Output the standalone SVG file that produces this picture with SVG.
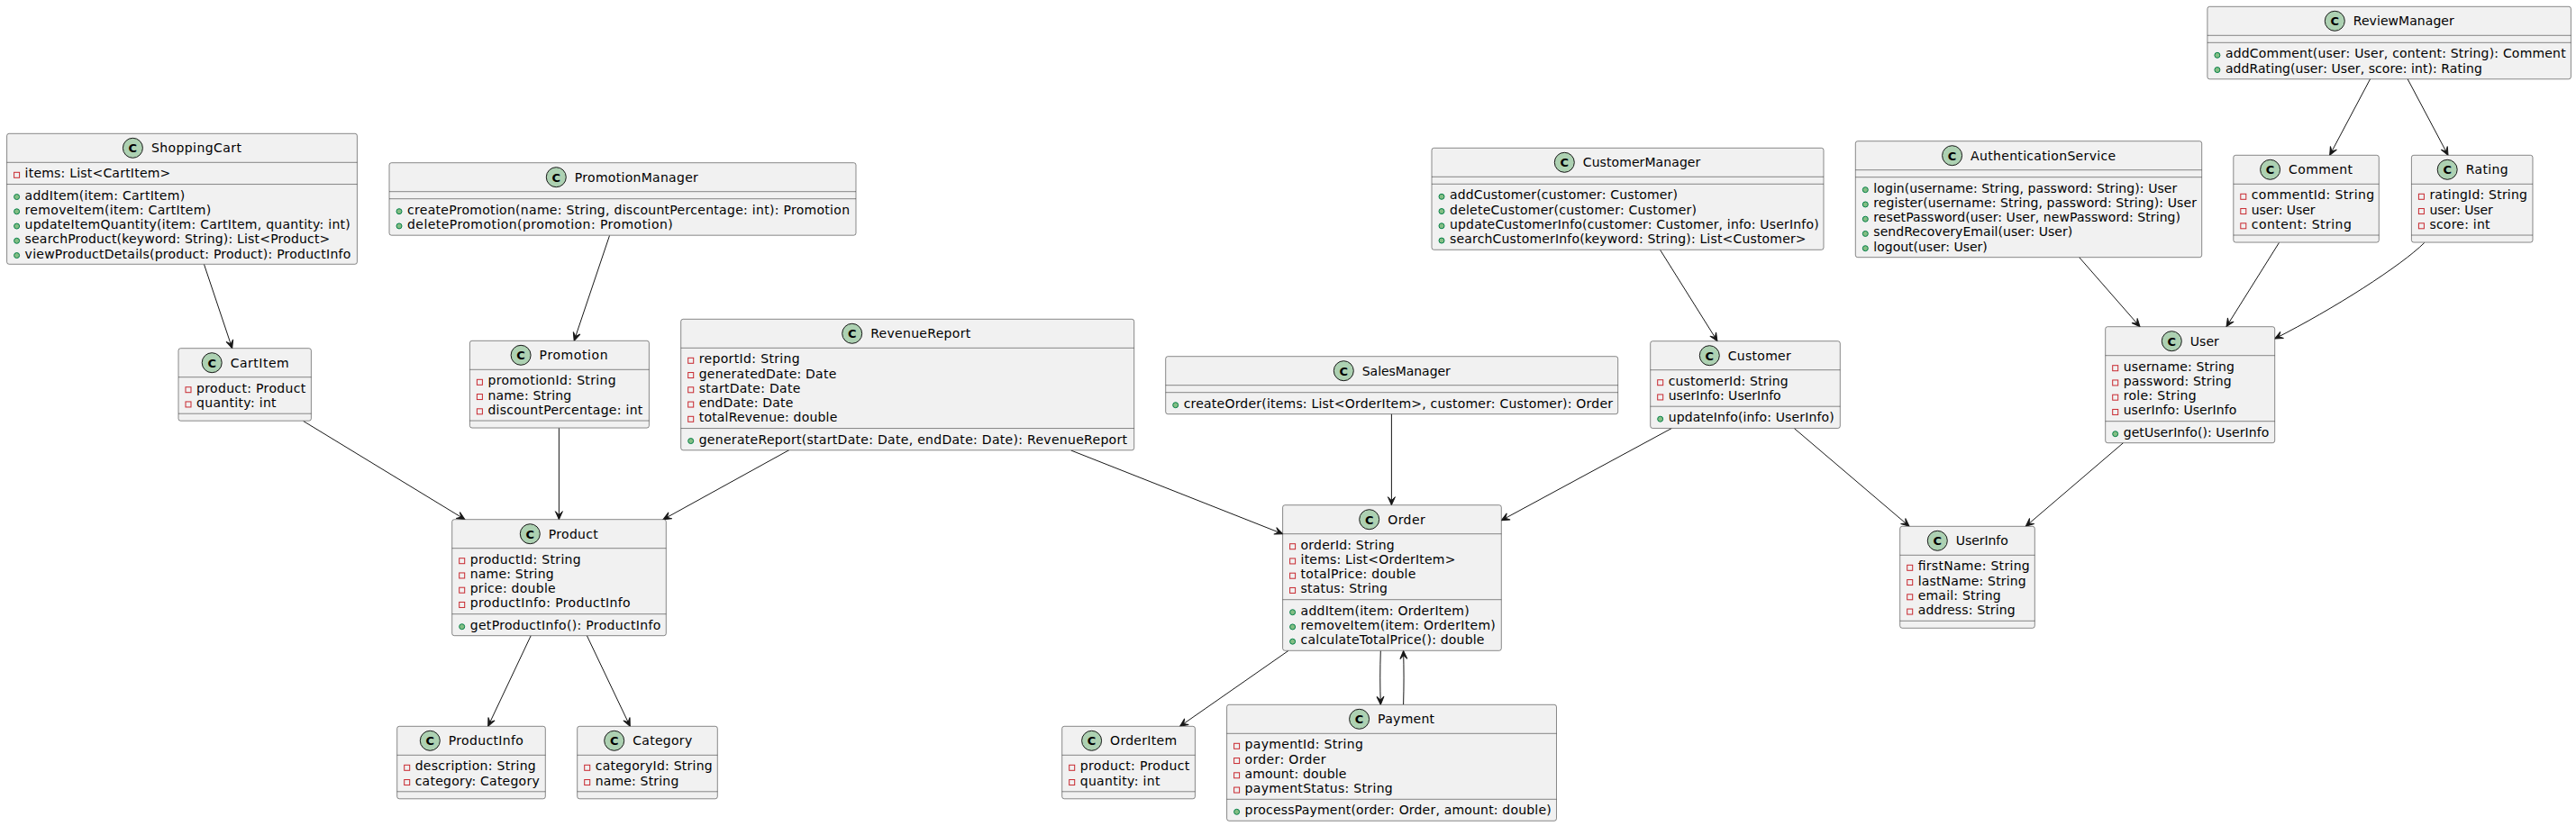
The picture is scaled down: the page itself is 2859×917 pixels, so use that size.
<svg xmlns="http://www.w3.org/2000/svg" width="2859" height="917" viewBox="0 0 2859 917">
<style>
text{font-family:"DejaVu Sans",sans-serif;font-size:14px;fill:#000}
.b{fill:#F1F1F1;stroke:#181818;stroke-width:.5}
.d{stroke:#181818;stroke-width:.5}
.s{fill:#ADD1B2;stroke:#181818;stroke-width:1}
.c{font-weight:bold;font-size:13px;text-anchor:middle}
.e{fill:none;stroke:#181818;stroke-width:1;marker-end:url(#a)}
</style>
<defs>
<marker id="a" markerUnits="userSpaceOnUse" markerWidth="14" markerHeight="14" refX="11" refY="6" orient="auto" overflow="visible"><path d="M11,6 L2,2 L6,6 L2,10 Z" fill="#181818" stroke="#181818" stroke-width="1"/></marker>
<rect id="m" width="6" height="6" fill="none" stroke="#C82930" stroke-width="1"/>
<circle id="p" cx="3" cy="3" r="3" fill="#84BE84" stroke="#038048" stroke-width="1"/>
</defs>
<rect width="2859" height="917" fill="#FFFFFF"/>
<g id="connectors">
<path class="e" d="M226.5,293.5 L257.7,386.7"/>
<path class="e" d="M676.5,261.5 L637.2,378.3"/>
<path class="e" d="M336.7,467.5 L516,576.7"/>
<path class="e" d="M620.4,475.3 L620.4,576.7"/>
<path class="e" d="M876,499.5 L736,576.7"/>
<path class="e" d="M1188.7,500 L1423.6,592.7"/>
<path class="e" d="M1544.4,459.3 L1544.4,560.7"/>
<path class="e" d="M1855.3,475.5 L1666.3,577.7"/>
<path class="e" d="M1991.3,475.5 L2119,584.3"/>
<path class="e" d="M2356.7,491.5 L2248.3,584.3"/>
<path class="e" d="M1842.6,277.5 L1906,378.7"/>
<path class="e" d="M2307.5,285.5 L2375,362.7"/>
<path class="e" d="M2529.4,269.5 L2471,362.7"/>
<path class="e" d="M2690.7,269.5 C2665,295 2590,343 2524.7,376"/>
<path class="e" d="M2630.7,87.5 L2585.7,172.3"/>
<path class="e" d="M2672,87.5 L2717,172.3"/>
<path class="e" d="M589.3,705.5 L541.7,806.3"/>
<path class="e" d="M651.3,705.5 L699.3,806.3"/>
<path class="e" d="M1429.8,722.5 L1309.6,806.3"/>
<path class="e" d="M1532.3,722.5 C1531.6,742 1531.6,762 1532.3,782.3"/>
<path class="e" d="M1557.6,782.3 C1558.2,762 1558.2,742 1557.6,722.5"/>
</g>
<g id="ShoppingCart" transform="translate(7.6,148.3)"><rect class="b" width="388.8" height="145" rx="2.5"/><line class="d" y1="32" x2="388.8" y2="32"/><line class="d" y1="56.25" x2="388.8" y2="56.25"/><circle class="s" cx="139.8" cy="16" r="11"/><text class="c" x="139.8" y="21">C</text><text x="160.3" y="21" textLength="100">ShoppingCart</text>
<use href="#m" x="8" y="43"/><text x="20" y="49" textLength="161.7">items: List&lt;CartItem&gt;</text>
<use href="#p" x="8" y="67.25"/><text x="20" y="73.25" textLength="177.5">addItem(item: CartItem)</text>
<use href="#p" x="8" y="83.5"/><text x="20" y="89.5" textLength="206.6">removeItem(item: CartItem)</text>
<use href="#p" x="8" y="99.75"/><text x="20" y="105.75" textLength="361.2">updateItemQuantity(item: CartItem, quantity: int)</text>
<use href="#p" x="8" y="116"/><text x="20" y="122" textLength="338.7">searchProduct(keyword: String): List&lt;Product&gt;</text>
<use href="#p" x="8" y="132.25"/><text x="20" y="138.25" textLength="361.7">viewProductDetails(product: Product): ProductInfo</text></g>
<g id="CartItem" transform="translate(198,386.7)"><rect class="b" width="147.4" height="80.5" rx="2.5"/><line class="d" y1="32" x2="147.4" y2="32"/><line class="d" y1="72.5" x2="147.4" y2="72.5"/><circle class="s" cx="37.2" cy="16" r="11"/><text class="c" x="37.2" y="21">C</text><text x="57.7" y="21" textLength="65">CartItem</text>
<use href="#m" x="8" y="43"/><text x="20" y="49" textLength="121.3">product: Product</text>
<use href="#m" x="8" y="59.25"/><text x="20" y="65.25" textLength="88.6">quantity: int</text></g>
<g id="PromotionManager" transform="translate(432,180.7)"><rect class="b" width="518" height="80.5" rx="2.5"/><line class="d" y1="32" x2="518" y2="32"/><line class="d" y1="40" x2="518" y2="40"/><circle class="s" cx="185.3" cy="16" r="11"/><text class="c" x="185.3" y="21">C</text><text x="205.8" y="21" textLength="137">PromotionManager</text>
<use href="#p" x="8" y="51"/><text x="20" y="57" textLength="491">createPromotion(name: String, discountPercentage: int): Promotion</text>
<use href="#p" x="8" y="67.25"/><text x="20" y="73.25" textLength="294.7">deletePromotion(promotion: Promotion)</text></g>
<g id="Promotion" transform="translate(521.4,378.3)"><rect class="b" width="199" height="96.75" rx="2.5"/><line class="d" y1="32" x2="199" y2="32"/><line class="d" y1="88.75" x2="199" y2="88.75"/><circle class="s" cx="56.7" cy="16" r="11"/><text class="c" x="56.7" y="21">C</text><text x="77.2" y="21" textLength="76">Promotion</text>
<use href="#m" x="8" y="43"/><text x="20" y="49" textLength="142.3">promotionId: String</text>
<use href="#m" x="8" y="59.25"/><text x="20" y="65.25" textLength="92.8">name: String</text>
<use href="#m" x="8" y="75.5"/><text x="20" y="81.5" textLength="171.9">discountPercentage: int</text></g>
<g id="RevenueReport" transform="translate(755.7,354.3)"><rect class="b" width="503" height="145.5" rx="2.5"/><line class="d" y1="32" x2="503" y2="32"/><line class="d" y1="121.25" x2="503" y2="121.25"/><circle class="s" cx="190" cy="16" r="11"/><text class="c" x="190" y="21">C</text><text x="210.5" y="21" textLength="111">RevenueReport</text>
<use href="#m" x="8" y="43"/><text x="20" y="49" textLength="112">reportId: String</text>
<use href="#m" x="8" y="59.25"/><text x="20" y="65.25" textLength="152.6">generatedDate: Date</text>
<use href="#m" x="8" y="75.5"/><text x="20" y="81.5" textLength="112.6">startDate: Date</text>
<use href="#m" x="8" y="91.75"/><text x="20" y="97.75" textLength="104.6">endDate: Date</text>
<use href="#m" x="8" y="108"/><text x="20" y="114" textLength="153.6">totalRevenue: double</text>
<use href="#p" x="8" y="132.25"/><text x="20" y="138.25" textLength="475.3">generateReport(startDate: Date, endDate: Date): RevenueReport</text></g>
<g id="Product" transform="translate(501.7,576.7)"><rect class="b" width="237.6" height="129" rx="2.5"/><line class="d" y1="32" x2="237.6" y2="32"/><line class="d" y1="105" x2="237.6" y2="105"/><circle class="s" cx="86.6" cy="16" r="11"/><text class="c" x="86.6" y="21">C</text><text x="107.1" y="21" textLength="55">Product</text>
<use href="#m" x="8" y="43"/><text x="20" y="49" textLength="123">productId: String</text>
<use href="#m" x="8" y="59.25"/><text x="20" y="65.25" textLength="93">name: String</text>
<use href="#m" x="8" y="75.5"/><text x="20" y="81.5" textLength="95">price: double</text>
<use href="#m" x="8" y="91.75"/><text x="20" y="97.75" textLength="178">productInfo: ProductInfo</text>
<use href="#p" x="8" y="116"/><text x="20" y="122" textLength="211.6">getProductInfo(): ProductInfo</text></g>
<g id="ProductInfo" transform="translate(440.7,806.3)"><rect class="b" width="164.6" height="80.5" rx="2.5"/><line class="d" y1="32" x2="164.6" y2="32"/><line class="d" y1="72.5" x2="164.6" y2="72.5"/><circle class="s" cx="36.6" cy="16" r="11"/><text class="c" x="36.6" y="21">C</text><text x="57.1" y="21" textLength="83">ProductInfo</text>
<use href="#m" x="8" y="43"/><text x="20" y="49" textLength="134">description: String</text>
<use href="#m" x="8" y="59.25"/><text x="20" y="65.25" textLength="138">category: Category</text></g>
<g id="Category" transform="translate(640.7,806.3)"><rect class="b" width="155.6" height="80.5" rx="2.5"/><line class="d" y1="32" x2="155.6" y2="32"/><line class="d" y1="72.5" x2="155.6" y2="72.5"/><circle class="s" cx="41" cy="16" r="11"/><text class="c" x="41" y="21">C</text><text x="61.5" y="21" textLength="66">Category</text>
<use href="#m" x="8" y="43"/><text x="20" y="49" textLength="130">categoryId: String</text>
<use href="#m" x="8" y="59.25"/><text x="20" y="65.25" textLength="92.6">name: String</text></g>
<g id="SalesManager" transform="translate(1293.7,395.7)"><rect class="b" width="502" height="64" rx="2.5"/><line class="d" y1="32" x2="502" y2="32"/><line class="d" y1="40" x2="502" y2="40"/><circle class="s" cx="197.6" cy="16" r="11"/><text class="c" x="197.6" y="21">C</text><text x="218.1" y="21" textLength="98">SalesManager</text>
<use href="#p" x="8" y="51"/><text x="20" y="57" textLength="476.3">createOrder(items: List&lt;OrderItem&gt;, customer: Customer): Order</text></g>
<g id="Order" transform="translate(1423.6,560.7)"><rect class="b" width="242.7" height="161.6" rx="2.5"/><line class="d" y1="32" x2="242.7" y2="32"/><line class="d" y1="105" x2="242.7" y2="105"/><circle class="s" cx="96.1" cy="16" r="11"/><text class="c" x="96.1" y="21">C</text><text x="116.6" y="21" textLength="41.5">Order</text>
<use href="#m" x="8" y="43"/><text x="20" y="49" textLength="104">orderId: String</text>
<use href="#m" x="8" y="59.25"/><text x="20" y="65.25" textLength="171.8">items: List&lt;OrderItem&gt;</text>
<use href="#m" x="8" y="75.5"/><text x="20" y="81.5" textLength="127.8">totalPrice: double</text>
<use href="#m" x="8" y="91.75"/><text x="20" y="97.75" textLength="96.4">status: String</text>
<use href="#p" x="8" y="116"/><text x="20" y="122" textLength="187.1">addItem(item: OrderItem)</text>
<use href="#p" x="8" y="132.25"/><text x="20" y="138.25" textLength="216.2">removeItem(item: OrderItem)</text>
<use href="#p" x="8" y="148.5"/><text x="20" y="154.5" textLength="203.9">calculateTotalPrice(): double</text></g>
<g id="OrderItem" transform="translate(1178.7,806.3)"><rect class="b" width="147.7" height="80.5" rx="2.5"/><line class="d" y1="32" x2="147.7" y2="32"/><line class="d" y1="72.5" x2="147.7" y2="72.5"/><circle class="s" cx="32.9" cy="16" r="11"/><text class="c" x="32.9" y="21">C</text><text x="53.4" y="21" textLength="74">OrderItem</text>
<use href="#m" x="8" y="43"/><text x="20" y="49" textLength="121.6">product: Product</text>
<use href="#m" x="8" y="59.25"/><text x="20" y="65.25" textLength="88.7">quantity: int</text></g>
<g id="Payment" transform="translate(1361.6,782.3)"><rect class="b" width="365.9" height="129" rx="2.5"/><line class="d" y1="32" x2="365.9" y2="32"/><line class="d" y1="105" x2="365.9" y2="105"/><circle class="s" cx="147" cy="16" r="11"/><text class="c" x="147" y="21">C</text><text x="167.5" y="21" textLength="63">Payment</text>
<use href="#m" x="8" y="43"/><text x="20" y="49" textLength="131.2">paymentId: String</text>
<use href="#m" x="8" y="59.25"/><text x="20" y="65.25" textLength="89.9">order: Order</text>
<use href="#m" x="8" y="75.5"/><text x="20" y="81.5" textLength="112.8">amount: double</text>
<use href="#m" x="8" y="91.75"/><text x="20" y="97.75" textLength="164.1">paymentStatus: String</text>
<use href="#p" x="8" y="116"/><text x="20" y="122" textLength="340.1">processPayment(order: Order, amount: double)</text></g>
<g id="CustomerManager" transform="translate(1589,164.3)"><rect class="b" width="435" height="113" rx="2.5"/><line class="d" y1="32" x2="435" y2="32"/><line class="d" y1="40" x2="435" y2="40"/><circle class="s" cx="147.3" cy="16" r="11"/><text class="c" x="147.3" y="21">C</text><text x="167.8" y="21" textLength="130.5">CustomerManager</text>
<use href="#p" x="8" y="51"/><text x="20" y="57" textLength="253">addCustomer(customer: Customer)</text>
<use href="#p" x="8" y="67.25"/><text x="20" y="73.25" textLength="274">deleteCustomer(customer: Customer)</text>
<use href="#p" x="8" y="83.5"/><text x="20" y="89.5" textLength="409.6">updateCustomerInfo(customer: Customer, info: UserInfo)</text>
<use href="#p" x="8" y="99.75"/><text x="20" y="105.75" textLength="395.6">searchCustomerInfo(keyword: String): List&lt;Customer&gt;</text></g>
<g id="Customer" transform="translate(1831.7,378.7)"><rect class="b" width="210.6" height="96.75" rx="2.5"/><line class="d" y1="32" x2="210.6" y2="32"/><line class="d" y1="72.5" x2="210.6" y2="72.5"/><circle class="s" cx="65.6" cy="16" r="11"/><text class="c" x="65.6" y="21">C</text><text x="86.1" y="21" textLength="70">Customer</text>
<use href="#m" x="8" y="43"/><text x="20" y="49" textLength="133">customerId: String</text>
<use href="#m" x="8" y="59.25"/><text x="20" y="65.25" textLength="125">userInfo: UserInfo</text>
<use href="#p" x="8" y="83.5"/><text x="20" y="89.5" textLength="184">updateInfo(info: UserInfo)</text></g>
<g id="AuthenticationService" transform="translate(2059.3,156.7)"><rect class="b" width="384.4" height="129" rx="2.5"/><line class="d" y1="32" x2="384.4" y2="32"/><line class="d" y1="40" x2="384.4" y2="40"/><circle class="s" cx="107.3" cy="16" r="11"/><text class="c" x="107.3" y="21">C</text><text x="127.8" y="21" textLength="161">AuthenticationService</text>
<use href="#p" x="8" y="51"/><text x="20" y="57" textLength="337">login(username: String, password: String): User</text>
<use href="#p" x="8" y="67.25"/><text x="20" y="73.25" textLength="358.7">register(username: String, password: String): User</text>
<use href="#p" x="8" y="83.5"/><text x="20" y="89.5" textLength="340.7">resetPassword(user: User, newPassword: String)</text>
<use href="#p" x="8" y="99.75"/><text x="20" y="105.75" textLength="221">sendRecoveryEmail(user: User)</text>
<use href="#p" x="8" y="116"/><text x="20" y="122" textLength="126.5">logout(user: User)</text></g>
<g id="ReviewManager" transform="translate(2449.9,7.3)"><rect class="b" width="403.5" height="80.5" rx="2.5"/><line class="d" y1="32" x2="403.5" y2="32"/><line class="d" y1="40" x2="403.5" y2="40"/><circle class="s" cx="141.4" cy="16" r="11"/><text class="c" x="141.4" y="21">C</text><text x="161.9" y="21" textLength="112">ReviewManager</text>
<use href="#p" x="8" y="51"/><text x="20" y="57" textLength="377.8">addComment(user: User, content: String): Comment</text>
<use href="#p" x="8" y="67.25"/><text x="20" y="73.25" textLength="284.9">addRating(user: User, score: int): Rating</text></g>
<g id="Comment" transform="translate(2478.8,172.3)"><rect class="b" width="161.5" height="96.75" rx="2.5"/><line class="d" y1="32" x2="161.5" y2="32"/><line class="d" y1="88.75" x2="161.5" y2="88.75"/><circle class="s" cx="40.8" cy="16" r="11"/><text class="c" x="40.8" y="21">C</text><text x="61.3" y="21" textLength="71">Comment</text>
<use href="#m" x="8" y="43"/><text x="20" y="49" textLength="136.3">commentId: String</text>
<use href="#m" x="8" y="59.25"/><text x="20" y="65.25" textLength="70.8">user: User</text>
<use href="#m" x="8" y="75.5"/><text x="20" y="81.5" textLength="111">content: String</text></g>
<g id="Rating" transform="translate(2676.4,172.3)"><rect class="b" width="134.6" height="96.75" rx="2.5"/><line class="d" y1="32" x2="134.6" y2="32"/><line class="d" y1="88.75" x2="134.6" y2="88.75"/><circle class="s" cx="39.8" cy="16" r="11"/><text class="c" x="39.8" y="21">C</text><text x="60.3" y="21" textLength="47">Rating</text>
<use href="#m" x="8" y="43"/><text x="20" y="49" textLength="108.5">ratingId: String</text>
<use href="#m" x="8" y="59.25"/><text x="20" y="65.25" textLength="70.3">user: User</text>
<use href="#m" x="8" y="75.5"/><text x="20" y="81.5" textLength="67.2">score: int</text></g>
<g id="User" transform="translate(2336.7,362.7)"><rect class="b" width="188" height="129" rx="2.5"/><line class="d" y1="32" x2="188" y2="32"/><line class="d" y1="105" x2="188" y2="105"/><circle class="s" cx="73.6" cy="16" r="11"/><text class="c" x="73.6" y="21">C</text><text x="94.1" y="21" textLength="32">User</text>
<use href="#m" x="8" y="43"/><text x="20" y="49" textLength="123.3">username: String</text>
<use href="#m" x="8" y="59.25"/><text x="20" y="65.25" textLength="120">password: String</text>
<use href="#m" x="8" y="75.5"/><text x="20" y="81.5" textLength="81">role: String</text>
<use href="#m" x="8" y="91.75"/><text x="20" y="97.75" textLength="125.6">userInfo: UserInfo</text>
<use href="#p" x="8" y="116"/><text x="20" y="122" textLength="161.6">getUserInfo(): UserInfo</text></g>
<g id="UserInfo" transform="translate(2108.7,584.3)"><rect class="b" width="149.6" height="113" rx="2.5"/><line class="d" y1="32" x2="149.6" y2="32"/><line class="d" y1="105" x2="149.6" y2="105"/><circle class="s" cx="41.6" cy="16" r="11"/><text class="c" x="41.6" y="21">C</text><text x="62.1" y="21" textLength="58">UserInfo</text>
<use href="#m" x="8" y="43"/><text x="20" y="49" textLength="124">firstName: String</text>
<use href="#m" x="8" y="59.25"/><text x="20" y="65.25" textLength="120">lastName: String</text>
<use href="#m" x="8" y="75.5"/><text x="20" y="81.5" textLength="92">email: String</text>
<use href="#m" x="8" y="91.75"/><text x="20" y="97.75" textLength="108">address: String</text></g>
</svg>
